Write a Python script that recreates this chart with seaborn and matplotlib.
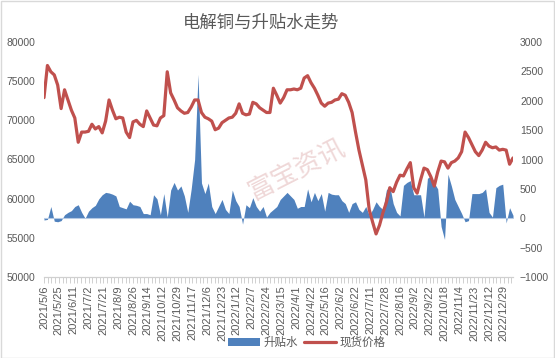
import numpy as np
import pandas as pd
import matplotlib
matplotlib.use("Agg")
import matplotlib.pyplot as plt
import seaborn as sns
from matplotlib.ticker import MultipleLocator, FixedLocator
from matplotlib.patches import Rectangle, Patch
from matplotlib.lines import Line2D

# ---- data (sampled every 3 trading days) ----
price = [72900, 77000, 76200, 75800, 74500, 71500, 73900, 72600, 71300, 70300,
         67200, 68500, 68500, 68600, 69500, 68900, 69200, 68400, 69900, 72600,
         71300, 70200, 70400, 70300, 68500, 67800, 69800, 70000, 69500, 69200,
         71200, 70300, 69400, 69300, 70300, 70600, 76200, 73500, 72600, 71600,
         71200, 70900, 71000, 71700, 72600, 72600, 71000, 70400, 70200, 69900,
         68800, 69000, 69700, 70000, 70300, 70400, 70900, 72100, 70900, 70700,
         70800, 72300, 72100, 71600, 71300, 71000, 71000, 74100, 73200, 72200,
         72900, 73900, 73900, 74000, 73900, 74100, 75400, 75700, 74800, 74100,
         73200, 72200, 71800, 72200, 72300, 72600, 72700, 73400, 73200, 72300,
         71000, 68500, 66200, 64300, 62400, 58600, 57000, 55500, 56600, 58200,
         59500, 61400, 60900, 62100, 63000, 62900, 63800, 64600, 61400, 60700,
         62400, 63900, 63700, 62800, 61600, 63400, 64800, 64700, 63900, 64600,
         64800, 65200, 66000, 68500, 67800, 66900, 66000, 65500, 66200, 67200,
         66700, 66500, 66600, 66200, 66300, 66200, 64400, 65200]

spread = [-30, -20, 200, -50, -60, -40, 60, 100, 130, 200,
          230, 100, 0, 120, 180, 220, 330, 400, 440, 430,
          410, 380, 200, 180, 160, 290, 230, 220, 200, 80,
          80, 60, 400, 330, 60, 420, 20, 480, 610, 480,
          550, 380, 100, 500, 1000, 2450, 600, 420, 600, 200,
          80, 200, 320, 150, 80, 480, 300, 200, -100, 230,
          180, 350, 200, 120, 200, 20, 100, 150, 200, 320,
          380, 440, 380, 320, 170, 200, 200, 500, 280, 440,
          300, 420, 120, 440, 410, 400, 400, 300, 250, 100,
          250, 280, 150, 100, 200, 50, 150, 280, 200, 150,
          480, 550, 250, 100, 40, 560, 610, 640, 400, 400,
          400, 20, 680, 720, 600, 500, -140, -360, 750, 550,
          320, 200, 80, -60, -40, 420, 420, 420, 440, 500,
          100, 20, 520, 560, 580, -80, 180, 50]

tick_labels = ["2021/5/6", "2021/5/25", "2021/6/11", "2021/7/2", "2021/7/21",
               "2021/8/9", "2021/8/26", "2021/9/14", "2021/10/12", "2021/10/29",
               "2021/11/17", "2021/12/6", "2021/12/23", "2022/1/12", "2022/2/7",
               "2022/2/24", "2022/3/15", "2022/4/1", "2022/4/22", "2022/5/16",
               "2022/6/2", "2022/6/22", "2022/7/11", "2022/7/28", "2022/8/16",
               "2022/9/2", "2022/9/22", "2022/10/18", "2022/11/4", "2022/11/23",
               "2022/12/12", "2022/12/29"]

SAMPLE_STEP = 3      # trading days between samples
LABEL_STEP = 13      # trading days between date labels

df = pd.DataFrame({"day": np.arange(len(price)) * SAMPLE_STEP,
                   "price": price, "spread": spread})

sns.set_theme(style="white")
plt.rcParams["font.family"] = ["Liberation Sans", "Noto Sans CJK SC", "DejaVu Sans"]

W, H = 555, 358
fig = plt.figure(figsize=(W / 100, H / 100), dpi=100)
fig.patch.set_facecolor("white")
left, right, top, bottom = 44, 513, 42, 277
ax1 = fig.add_axes([left / W, 1 - bottom / H, (right - left) / W, (bottom - top) / H])
ax2 = ax1.twinx()

text_col = "#595959"
blue = "#4F81BD"
red = "#C0504D"

# spread area (secondary scale, right side)
ax1.fill_between(df["day"], 0, df["spread"], color=blue, lw=0, zorder=2)
ax1.axhline(0, color="#b4c9e4", lw=0.8, zorder=3)
ax1.set_ylim(-1000, 3000)
ax1.yaxis.set_major_locator(MultipleLocator(500))
ax1.yaxis.tick_right()

# price line (primary scale, left side)
sns.lineplot(data=df, x="day", y="price", ax=ax2, color=red, lw=2.3, zorder=4)
ax2.set_ylim(50000, 80000)
ax2.yaxis.set_major_locator(MultipleLocator(5000))
ax2.yaxis.tick_left()
ax2.set_xlabel("")
ax2.set_ylabel("")

xmax = df["day"].iloc[-1]
for ax in (ax1, ax2):
    ax.set_xlim(0, xmax)
    for s in ax.spines.values():
        s.set_visible(False)
    ax.set_facecolor("none")
    ax.grid(False)

ax1.spines["bottom"].set_visible(True)
ax1.spines["bottom"].set_color("#d0d0d0")
ax1.spines["bottom"].set_linewidth(0.9)

tick_pos = np.arange(len(tick_labels)) * LABEL_STEP
ax1.xaxis.set_major_locator(FixedLocator(tick_pos))
ax1.set_xticklabels(tick_labels, rotation=90, fontsize=8, color=text_col)
ax1.xaxis.set_minor_locator(MultipleLocator(LABEL_STEP / 4))
ax1.tick_params(axis="x", which="both", bottom=True, length=4, width=0.7,
                color="#d0d0d0", pad=2)
ax2.tick_params(axis="x", which="both", bottom=False, labelbottom=False, top=False)
ax1.tick_params(axis="y", which="both", left=False, right=False, length=0,
                labelleft=False, labelright=True,
                labelsize=7.5, labelcolor=text_col, pad=5)
ax2.tick_params(axis="y", which="both", left=False, right=False, length=0,
                labelleft=True, labelright=False,
                labelsize=7.5, labelcolor=text_col, pad=6.5)
ax1.set_zorder(1)
ax2.set_zorder(2)

# title
fig.text(261 / W, 1 - 23 / H, "电解铜与升贴水走势", ha="center", va="center",
         fontsize=12.5, color=text_col)

# watermark
fig.text(297 / W, 1 - 170 / H, "富宝资讯", ha="center", va="center", rotation=27,
         fontsize=19, color="#dca8a8", alpha=0.45, zorder=0)

# legend
handles = [Patch(facecolor=blue, edgecolor="none", label="升贴水"),
           Line2D([0], [0], color=red, lw=2.3, label="现货价格")]
fig.legend(handles=handles, loc="center", bbox_to_anchor=(307 / W, 1 - 343 / H),
           ncol=2, frameon=False, fontsize=8.3, handlelength=2.8, handleheight=0.6,
           columnspacing=0.5, handletextpad=0.3, labelcolor=text_col)

fig.add_artist(Rectangle((0.5 / W, 0.5 / H), 1 - 1.5 / W, 1 - 1.5 / H,
                         transform=fig.transFigure, fill=False,
                         edgecolor="#d9d9d9", lw=1))

fig.savefig("out.png", dpi=100)
